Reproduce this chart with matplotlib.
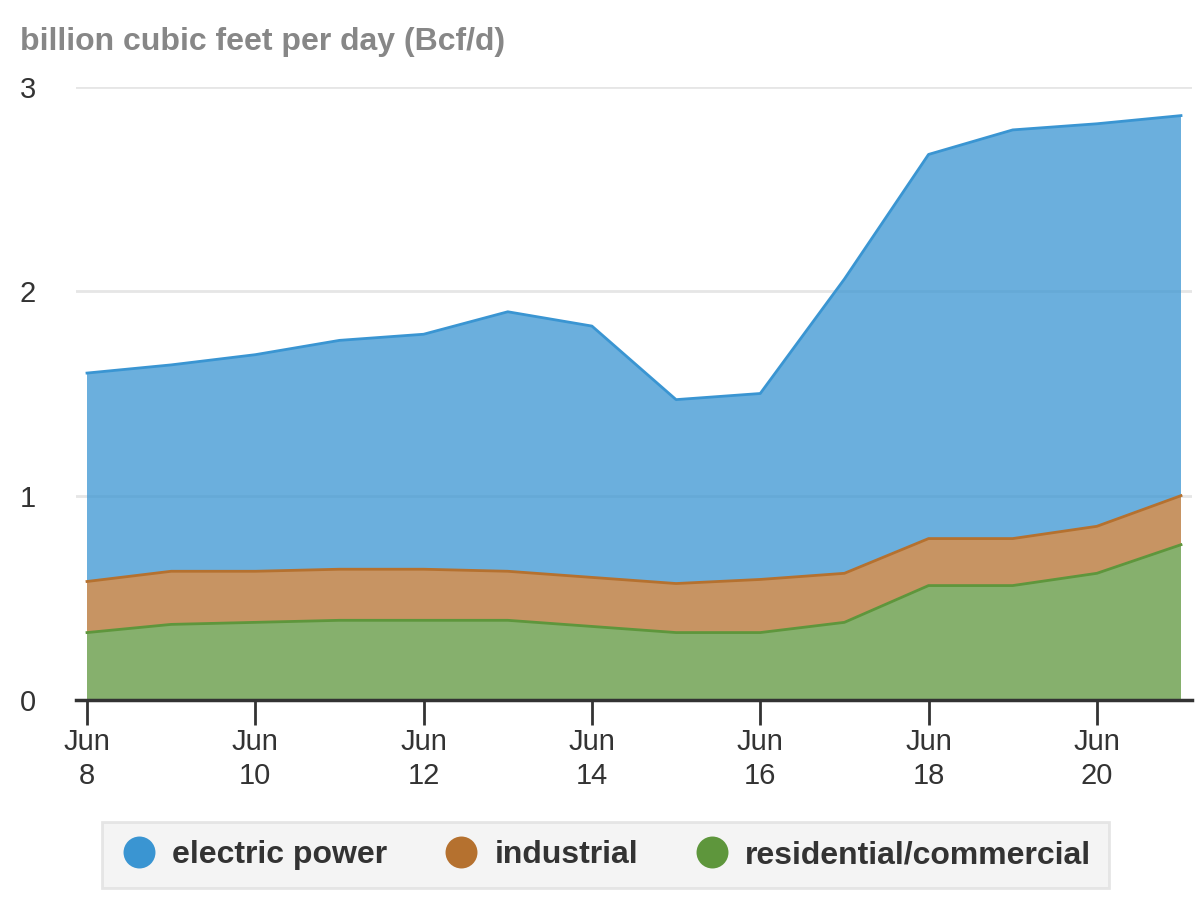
import numpy as np
import matplotlib
matplotlib.use("Agg")
import matplotlib.pyplot as plt
from matplotlib.lines import Line2D

plt.rcParams['font.family'] = ['Liberation Sans', 'DejaVu Sans']

days = [8, 9, 10, 11, 12, 13, 14, 15, 16, 17, 18, 19, 20, 21]
residential = [0.33, 0.37, 0.38, 0.39, 0.39, 0.39, 0.36, 0.33, 0.33, 0.38, 0.56, 0.56, 0.62, 0.76]
industrial = [0.25, 0.26, 0.25, 0.25, 0.25, 0.24, 0.24, 0.24, 0.26, 0.24, 0.23, 0.23, 0.23, 0.24]
electric = [1.02, 1.01, 1.06, 1.12, 1.15, 1.27, 1.23, 0.90, 0.91, 1.44, 1.88, 2.00, 1.97, 1.86]
series_names = ["electric power", "industrial", "residential/commercial"]
tick_days = [8, 10, 12, 14, 16, 18, 20]
tick_labels = ["Jun\n%d" % d for d in tick_days]
yticks = [0, 1, 2, 3]
title = "billion cubic feet per day (Bcf/d)"

c_elec = "#3A95D2"
c_ind = "#B5712F"
c_res = "#5E963C"

fig = plt.figure(figsize=(12, 8.99), dpi=100)
ax = fig.add_axes([76/1200, 1 - 700/899, (1192-76)/1200, (700-87)/899])

x = np.array(days)
stack = np.vstack([residential, industrial, electric])
ax.stackplot(x, stack, colors=[c_res, c_ind, c_elec], alpha=0.75, zorder=2, linewidth=0)
cum = np.cumsum(stack, axis=0)
ax.plot(x, cum[0], color=c_res, lw=2, zorder=3)
ax.plot(x, cum[1], color=c_ind, lw=2, zorder=3)
ax.plot(x, cum[2], color=c_elec, lw=2, zorder=3)

ax.set_xlim(8 - 11/84.15, 21 + 11/84.15)
ax.set_ylim(0, 3)
ax.set_yticks(yticks)
ax.set_yticklabels([str(v) for v in yticks], fontsize=21, color="#333333")
ax.set_xticks(tick_days)
ax.set_xticklabels(tick_labels, fontsize=21, color="#333333", linespacing=1.3)
ax.tick_params(axis='y', length=0, pad=34.5)
ax.tick_params(axis='x', length=18, width=2, color="#333333", pad=2, direction='out')
for lab in ax.get_yticklabels():
    lab.set_horizontalalignment('center')
ax.grid(axis='y', color="#e6e6e6", lw=2, zorder=1)
ax.set_axisbelow(True)
for s in ["top", "right", "left"]:
    ax.spines[s].set_visible(False)
ax.spines["bottom"].set_color("#333333")
ax.spines["bottom"].set_linewidth(2.5)
ax.spines["bottom"].set_zorder(4)

fig.text(20/1200, 1 - 42/899, title, fontsize=23, fontweight='bold', color="#878787",
         va='center', ha='left')

handles = [Line2D([], [], marker='o', ls='none', markersize=23, color=c, markeredgewidth=0)
           for c in [c_elec, c_ind, c_res]]
leg = fig.legend(handles, series_names, loc='center', bbox_to_anchor=(605.5/1200, 1 - 855/899),
                 ncol=3, frameon=True, fancybox=False, fontsize=23,
                 handletextpad=0.45, columnspacing=1.7, borderpad=0.55, handlelength=1.2)
frame = leg.get_frame()
frame.set_facecolor("#f2f2f2")
frame.set_edgecolor("#e0e0e0")
frame.set_linewidth(2)
for t in leg.get_texts():
    t.set_fontweight('bold')
    t.set_color("#333333")

fig.savefig("out.png", dpi=100, facecolor="white")
